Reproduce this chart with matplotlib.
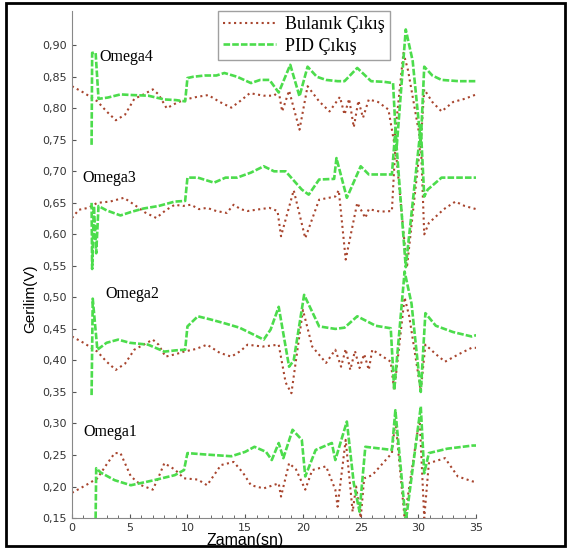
import matplotlib
matplotlib.use("Agg")
import matplotlib.pyplot as plt
from matplotlib.patches import Rectangle
from matplotlib.ticker import MultipleLocator, FuncFormatter

# Omega4
om4_fz_t = [0, 1.0, 2.2, 3.0, 3.8, 4.6, 5.4, 6.2, 7.0, 7.5, 8.2, 9.0, 9.8, 10.8, 11.8, 12.8, 13.8, 14.6,
            15.4, 16.6, 17.5, 17.9, 18.2, 18.8, 19.7, 20.4, 21.4, 22.3, 23.2, 23.6, 24.0, 24.4, 24.8, 25.2,
            25.7, 26.5, 27.4, 27.9, 28.7, 29.1, 30.2, 30.5, 31.2, 32.0, 33.0, 34.0, 35.0]
om4_fz_v = [0.835, 0.825, 0.811, 0.795, 0.781, 0.790, 0.815, 0.822, 0.830, 0.822, 0.800, 0.808, 0.814,
            0.818, 0.821, 0.810, 0.801, 0.812, 0.824, 0.820, 0.820, 0.827, 0.795, 0.828, 0.766, 0.835,
            0.811, 0.795, 0.818, 0.790, 0.815, 0.770, 0.812, 0.785, 0.814, 0.810, 0.798, 0.745, 0.888,
            0.860, 0.745, 0.830, 0.810, 0.795, 0.810, 0.815, 0.822]
om4_pid_t = [1.7, 1.75, 2.05, 2.3, 3.1, 4.2, 5.2, 6.6, 8.0, 9.0, 9.8, 10.0, 10.5, 11.5, 12.5, 13.2, 14.3,
             15.5, 16.3, 17.1, 17.9, 18.9, 19.7, 20.4, 21.2, 22.0, 23.0, 23.6, 24.7, 25.9, 27.0, 27.8,
             28.1, 28.9, 29.5, 30.2, 30.5, 31.2, 32.0, 33.5, 35.0]
om4_pid_v = [0.742, 0.888, 0.888, 0.815, 0.817, 0.822, 0.821, 0.820, 0.814, 0.813, 0.811, 0.848, 0.850,
             0.852, 0.852, 0.856, 0.850, 0.840, 0.845, 0.845, 0.825, 0.869, 0.819, 0.866, 0.850, 0.845,
             0.843, 0.843, 0.864, 0.843, 0.842, 0.840, 0.735, 0.925, 0.875, 0.745, 0.866, 0.852, 0.845,
             0.843, 0.843]

# Omega3
om3_fz_t = [0, 0.6, 1.4, 2.2, 3.3, 4.5, 5.4, 6.3, 7.3, 8.1, 8.9, 9.6, 10.3, 11.0, 11.7, 12.5, 13.4, 14.0,
            14.6, 15.2, 16.3, 17.1, 17.8, 18.1, 19.2, 20.2, 21.4, 22.8, 23.1, 23.7, 24.7, 25.4, 25.7,
            26.7, 27.7, 28.0, 29.0, 30.2, 30.5, 30.9, 32.2, 33.2, 34.0, 35.0]
om3_fz_v = [0.626, 0.639, 0.642, 0.650, 0.652, 0.658, 0.647, 0.635, 0.626, 0.638, 0.647, 0.645, 0.647,
            0.640, 0.642, 0.637, 0.634, 0.647, 0.640, 0.637, 0.640, 0.642, 0.637, 0.597, 0.670, 0.594,
            0.655, 0.660, 0.670, 0.560, 0.650, 0.626, 0.640, 0.636, 0.637, 0.740, 0.547, 0.750, 0.600,
            0.618, 0.640, 0.652, 0.645, 0.640]
om3_pid_t = [1.7, 1.75, 1.9, 2.1, 2.3, 3.0, 4.2, 5.2, 6.2, 7.5, 8.9, 9.8, 10.0, 10.9, 12.3, 13.3, 14.3,
             15.5, 16.6, 17.5, 18.5, 19.9, 20.5, 21.4, 22.7, 22.9, 23.8, 25.0, 25.7, 27.7, 28.0, 28.9,
             30.2, 30.5, 30.8, 32.0, 33.5, 35.0]
om3_pid_v = [0.650, 0.545, 0.645, 0.570, 0.645, 0.638, 0.630, 0.636, 0.641, 0.645, 0.652, 0.653, 0.690,
             0.690, 0.682, 0.690, 0.690, 0.698, 0.708, 0.700, 0.700, 0.671, 0.663, 0.687, 0.688, 0.721,
             0.658, 0.708, 0.695, 0.695, 0.765, 0.548, 0.770, 0.660, 0.671, 0.690, 0.690, 0.690]

# Omega2
om2_fz_t = [0, 1.0, 2.2, 3.0, 3.8, 4.6, 5.4, 6.2, 7.0, 7.5, 8.1, 9.0, 9.7, 10.7, 11.7, 12.8, 13.8, 14.6,
            15.2, 16.5, 17.9, 18.5, 19.0, 20.0, 20.8, 22.0, 22.8, 23.3, 23.7, 24.1, 24.5, 24.9, 25.3,
            25.7, 26.0, 27.6, 27.9, 28.8, 29.2, 30.2, 30.6, 31.5, 32.3, 33.5, 34.6, 35.0]
om2_fz_v = [0.438, 0.428, 0.414, 0.398, 0.385, 0.395, 0.417, 0.425, 0.433, 0.425, 0.406, 0.410, 0.414,
            0.418, 0.425, 0.412, 0.406, 0.415, 0.425, 0.422, 0.425, 0.365, 0.348, 0.480, 0.422, 0.396,
            0.417, 0.390, 0.418, 0.385, 0.415, 0.388, 0.410, 0.385, 0.417, 0.398, 0.352, 0.500, 0.470,
            0.352, 0.425, 0.410, 0.398, 0.410, 0.420, 0.420]
om2_pid_t = [1.7, 1.8, 2.2, 3.0, 4.0, 5.0, 6.6, 8.0, 9.0, 9.8, 10.0, 10.9, 12.0, 13.2, 14.5, 15.5, 16.6,
             17.2, 17.9, 18.8, 19.2, 20.1, 21.4, 22.8, 23.6, 24.7, 26.3, 27.6, 27.9, 28.8, 29.4, 30.2,
             30.6, 31.5, 33.0, 34.6, 35.0]
om2_pid_v = [0.345, 0.498, 0.417, 0.428, 0.433, 0.428, 0.425, 0.414, 0.416, 0.417, 0.454, 0.470, 0.465,
             0.459, 0.452, 0.443, 0.433, 0.449, 0.485, 0.390, 0.400, 0.504, 0.454, 0.450, 0.452, 0.470,
             0.455, 0.451, 0.353, 0.541, 0.490, 0.350, 0.475, 0.455, 0.445, 0.438, 0.440]

# Omega1
om1_fz_t = [0, 1.2, 2.2, 3.0, 3.7, 4.2, 5.1, 6.0, 7.0, 7.5, 8.0, 8.9, 9.7, 10.9, 11.7, 12.9, 14.0, 14.8,
            15.5, 16.6, 17.9, 18.1, 18.8, 19.4, 20.2, 20.8, 22.0, 22.8, 23.0, 23.7, 24.3, 24.6, 25.0,
            25.3, 26.0, 27.7, 28.0, 28.8, 30.1, 30.5, 30.9, 32.3, 33.4, 34.7, 35.0]
om1_fz_v = [0.190, 0.202, 0.213, 0.235, 0.253, 0.253, 0.216, 0.202, 0.195, 0.215, 0.237, 0.227, 0.213,
            0.211, 0.202, 0.234, 0.239, 0.222, 0.202, 0.197, 0.205, 0.184, 0.237, 0.227, 0.195, 0.226,
            0.232, 0.195, 0.168, 0.274, 0.160, 0.200, 0.150, 0.213, 0.218, 0.253, 0.305, 0.150, 0.309,
            0.150, 0.237, 0.245, 0.216, 0.208, 0.208]
om1_pid_t = [2.05, 2.1, 2.5, 3.7, 5.1, 7.1, 8.9, 9.7, 10.0, 11.4, 13.8, 15.0, 15.8, 16.8, 17.3, 17.9,
             18.3, 19.1, 19.9, 20.2, 21.1, 22.5, 22.8, 23.8, 24.4, 24.9, 25.4, 27.7, 28.0, 28.9, 30.2,
             30.5, 30.9, 32.5, 34.7, 35.0]
om1_pid_v = [0.150, 0.229, 0.222, 0.210, 0.202, 0.210, 0.218, 0.226, 0.253, 0.251, 0.248, 0.255, 0.263,
             0.255, 0.242, 0.269, 0.245, 0.290, 0.274, 0.216, 0.258, 0.269, 0.242, 0.303, 0.205, 0.160,
             0.263, 0.258, 0.321, 0.144, 0.327, 0.221, 0.253, 0.260, 0.265, 0.265]

labels = ["Omega4", "Omega3", "Omega2", "Omega1"]
label_pos = [(2.4, 0.882), (0.9, 0.690), (2.9, 0.506), (1.0, 0.287)]
y_ticks = [0.15, 0.20, 0.25, 0.30, 0.35, 0.40, 0.45, 0.50, 0.55, 0.60, 0.65, 0.70, 0.75, 0.80, 0.85, 0.90]

fz_color = "#a8452e"
pid_color = "#4cdc4c"

fig = plt.figure(figsize=(5.71, 5.48), dpi=100)
ax = fig.add_axes([0.126, 0.0547, 0.708, 0.926])

fuzzy = [(om4_fz_t, om4_fz_v), (om3_fz_t, om3_fz_v), (om2_fz_t, om2_fz_v), (om1_fz_t, om1_fz_v)]
pid = [(om4_pid_t, om4_pid_v), (om3_pid_t, om3_pid_v), (om2_pid_t, om2_pid_v), (om1_pid_t, om1_pid_v)]

for i in range(4):
    ax.plot(fuzzy[i][0], fuzzy[i][1], color=fz_color, ls=":", lw=1.5,
            label="Bulanık Çıkış" if i == 0 else None)
for i in range(4):
    ax.plot(pid[i][0], pid[i][1], color=pid_color, ls="--", lw=1.9, dashes=(2.5, 0.8),
            label="PID Çıkış" if i == 0 else None)

for lab, (x, y) in zip(labels, label_pos):
    ax.text(x, y, lab, family="Liberation Serif", fontsize=11.5, va="center", ha="left")

ax.set_xlim(0, 35)
ax.set_ylim(0.15, 0.955)
ax.set_yticks(y_ticks)
ax.yaxis.set_major_formatter(FuncFormatter(lambda v, p: ("%.2f" % v).replace(".", ",")))
ax.xaxis.set_major_locator(MultipleLocator(5))
ax.xaxis.set_minor_locator(MultipleLocator(1))
ax.tick_params(direction="in", labelsize=8, colors="#555555", labelcolor="#333333", length=3)
ax.tick_params(which="minor", direction="in", length=2, colors="#555555")
for s in ["top", "right"]:
    ax.spines[s].set_visible(False)
for s in ["left", "bottom"]:
    ax.spines[s].set_color("#888888")

leg = ax.legend(loc="upper left", bbox_to_anchor=(0.361, 1.0), borderaxespad=0,
                prop={"family": "Liberation Serif", "size": 13}, fancybox=False,
                edgecolor="#888888", handlelength=2.9, handletextpad=0.5,
                borderpad=0.3, labelspacing=0.25)
leg.get_frame().set_linewidth(1.0)

fig.text(0.053, 0.455, "Gerilim(V)", rotation=90, fontsize=11, family="Liberation Sans",
         ha="center", va="center")
fig.text(0.43, 0.013, "Zaman(sn)", fontsize=11.5, family="Liberation Sans", ha="center", va="center")

fig.patches.append(Rectangle((0.011, 0.003), 0.978, 0.991, transform=fig.transFigure,
                             fill=False, edgecolor="black", lw=2))

fig.savefig("out.png", dpi=100)
